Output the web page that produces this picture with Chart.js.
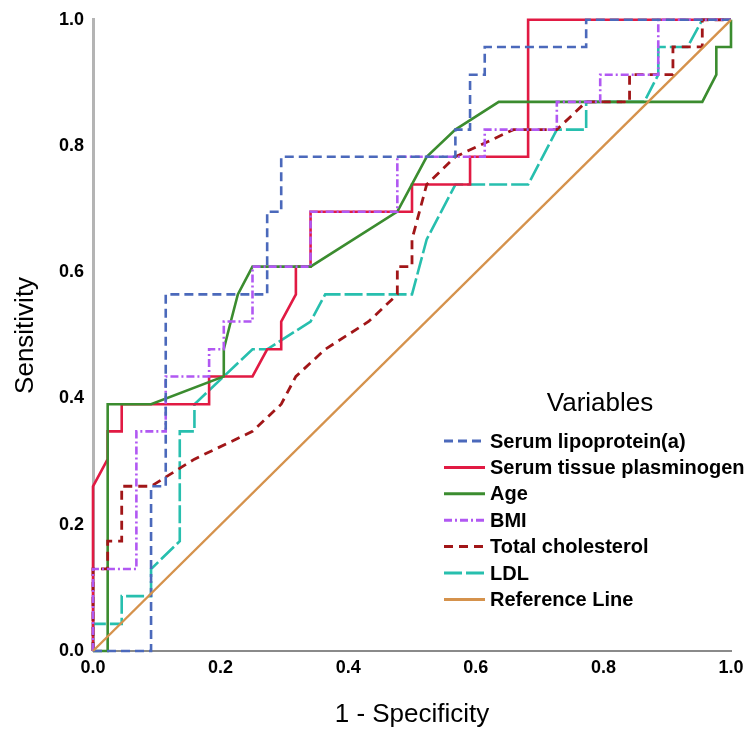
<!DOCTYPE html>
<html>
<head>
<meta charset="utf-8">
<script src="https://cdn.jsdelivr.net/npm/chart.js@4"></script>
<style>
  body { margin: 0; background: #fff; }
  #wrap { width: 756px; height: 733px; }
</style>
</head>
<body>
<div id="wrap"><canvas id="roc" width="756" height="733"></canvas></div>
<script>
// ROC coordinates (1 - specificity, sensitivity)
const lipoX = [0, 0.091, 0.091, 0.114, 0.114, 0.273, 0.273, 0.295, 0.295, 0.568, 0.568, 0.591, 0.591, 0.614, 0.614, 0.773, 0.773, 1];
const lipoY = [0, 0, 0.261, 0.261, 0.565, 0.565, 0.696, 0.696, 0.783, 0.783, 0.826, 0.826, 0.913, 0.913, 0.957, 0.957, 1, 1];

const plasX = [0, 0, 0.023, 0.023, 0.045, 0.045, 0.182, 0.182, 0.25, 0.273, 0.295, 0.295, 0.318, 0.318, 0.341, 0.341, 0.5, 0.5, 0.591, 0.591, 0.682, 0.682, 1];
const plasY = [0, 0.261, 0.304, 0.348, 0.348, 0.391, 0.391, 0.435, 0.435, 0.478, 0.478, 0.522, 0.565, 0.609, 0.609, 0.696, 0.696, 0.739, 0.739, 0.783, 0.783, 1, 1];

const ageX = [0, 0.023, 0.023, 0.091, 0.205, 0.205, 0.216, 0.227, 0.25, 0.341, 0.477, 0.523, 0.568, 0.636, 0.955, 0.977, 0.977, 1, 1];
const ageY = [0, 0, 0.391, 0.391, 0.435, 0.478, 0.522, 0.565, 0.609, 0.609, 0.696, 0.783, 0.826, 0.870, 0.870, 0.913, 0.957, 0.957, 1];

const bmiX = [0, 0, 0.068, 0.068, 0.114, 0.114, 0.182, 0.182, 0.205, 0.205, 0.25, 0.25, 0.341, 0.341, 0.477, 0.477, 0.614, 0.614, 0.727, 0.727, 0.795, 0.795, 0.886, 0.886, 1];
const bmiY = [0, 0.130, 0.130, 0.348, 0.348, 0.435, 0.435, 0.478, 0.478, 0.522, 0.522, 0.609, 0.609, 0.696, 0.696, 0.783, 0.783, 0.826, 0.826, 0.870, 0.870, 0.913, 0.913, 1, 1];

const cholX = [0, 0, 0.023, 0.023, 0.045, 0.045, 0.091, 0.159, 0.25, 0.295, 0.318, 0.364, 0.432, 0.477, 0.477, 0.5, 0.5, 0.523, 0.568, 0.659, 0.727, 0.773, 0.841, 0.841, 0.909, 0.909, 0.955, 0.955, 1];
const cholY = [0, 0.130, 0.130, 0.174, 0.174, 0.261, 0.261, 0.304, 0.348, 0.391, 0.435, 0.478, 0.522, 0.565, 0.609, 0.609, 0.652, 0.739, 0.783, 0.826, 0.826, 0.870, 0.870, 0.913, 0.913, 0.957, 0.957, 1, 1];

const ldlX = [0, 0, 0.045, 0.045, 0.091, 0.091, 0.136, 0.136, 0.159, 0.159, 0.205, 0.25, 0.273, 0.341, 0.364, 0.5, 0.523, 0.568, 0.682, 0.727, 0.773, 0.773, 0.864, 0.886, 0.886, 0.932, 0.955, 1];
const ldlY = [0, 0.043, 0.043, 0.087, 0.087, 0.130, 0.174, 0.348, 0.348, 0.391, 0.435, 0.478, 0.478, 0.522, 0.565, 0.565, 0.652, 0.739, 0.739, 0.826, 0.826, 0.870, 0.870, 0.913, 0.957, 0.957, 1, 1];

const refX = [0, 1];
const refY = [0, 1];

const axisTicks = [0, 0.2, 0.4, 0.6, 0.8, 1.0];

function pts(xs, ys) {
    return xs.map((x, i) => ({ x: x, y: ys[i] }));
}

function line(label, xs, ys, color, dash, width, order) {
    return {
        label: label,
        data: pts(xs, ys),
        borderColor: color,
        backgroundColor: color,
        borderDash: dash,
        borderWidth: width,
        showLine: true,
        pointRadius: 0,
        tension: 0,
        clip: false,
        order: order,
    };
}

// legend drawn inside the plot, bottom right
const insideLegend = {
    id: 'insideLegend',
    afterDatasetsDraw(chart) {
        const ctx = chart.ctx;
        ctx.save();
        ctx.fillStyle = '#000';
        ctx.font = '26px "Liberation Sans", Arial, sans-serif';
        ctx.textAlign = 'center';
        ctx.textBaseline = 'middle';
        ctx.fillText('Variables', 600, 404);

        ctx.font = 'bold 20px "Liberation Sans", Arial, sans-serif';
        ctx.textAlign = 'left';
        chart.data.datasets.forEach((ds, i) => {
            const y = 441 + i * 26.4;
            ctx.strokeStyle = ds.borderColor;
            ctx.lineWidth = 3;
            ctx.setLineDash(ds.borderDash || []);
            ctx.beginPath();
            ctx.moveTo(444, y);
            ctx.lineTo(485, y);
            ctx.stroke();
            ctx.setLineDash([]);
            ctx.fillStyle = '#000';
            ctx.fillText(ds.label, 490, y + 1);
        });
        ctx.restore();
    }
};

const ctx = document.getElementById('roc').getContext('2d');
new Chart(ctx, {
    type: 'scatter',
    data: {
        datasets: [
            line('Serum lipoprotein(a)', lipoX, lipoY, '#4b69bb', [9, 5], 2.6, 2),
            line('Serum tissue plasminogen', plasX, plasY, '#e11a43', [], 2.6, 6),
            line('Age', ageX, ageY, '#3b8c2f', [], 2.6, 5),
            line('BMI', bmiX, bmiY, '#b158f2', [8, 3, 2, 3], 2.6, 3),
            line('Total cholesterol', cholX, cholY, '#a11618', [9, 6], 2.8, 4),
            line('LDL', ldlX, ldlY, '#27bfae', [18, 4], 2.6, 7),
            line('Reference Line', refX, refY, '#d5924c', [], 2.4, 1),
        ],
    },
    options: {
        responsive: false,
        animation: false,
        layout: {
            padding: { top: 15, right: 25, left: 0, bottom: 0 },
        },
        plugins: {
            legend: { display: false },
            tooltip: { enabled: false },
        },
        scales: {
            x: {
                type: 'linear',
                min: 0,
                max: 1,
                afterFit: (scale) => { scale.height = 82; },
                afterBuildTicks: (scale) => { scale.ticks = axisTicks.map(v => ({ value: v })); },
                grid: { display: false, drawTicks: false },
                border: { color: '#8a8a8a', width: 2 },
                ticks: {
                    padding: 6,
                    color: '#000',
                    font: { size: 18, weight: 'bold', family: '"Liberation Sans", Arial, sans-serif' },
                    callback: (v) => Number(v).toFixed(1),
                },
                title: {
                    display: true,
                    text: '1 - Specificity',
                    color: '#000',
                    padding: { bottom: 3 },
                    font: { size: 26, family: '"Liberation Sans", Arial, sans-serif' },
                },
            },
            y: {
                type: 'linear',
                min: 0,
                max: 1,
                afterFit: (scale) => { scale.width = 93; },
                afterBuildTicks: (scale) => { scale.ticks = axisTicks.map(v => ({ value: v })); },
                grid: { display: false, drawTicks: false },
                border: { color: '#b4b4b4', width: 3 },
                ticks: {
                    padding: 9,
                    color: '#000',
                    font: { size: 18, weight: 'bold', family: '"Liberation Sans", Arial, sans-serif' },
                    callback: (v) => Number(v).toFixed(1),
                },
                title: {
                    display: true,
                    text: 'Sensitivity',
                    color: '#000',
                    padding: { top: 10 },
                    font: { size: 26, family: '"Liberation Sans", Arial, sans-serif' },
                },
            },
        },
    },
    plugins: [insideLegend],
});
</script>
</body>
</html>
